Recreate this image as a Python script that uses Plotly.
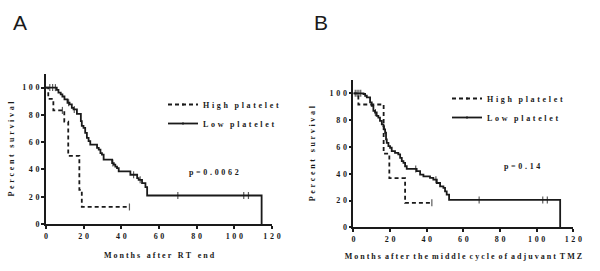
import plotly.graph_objects as go

# ---------------- data ----------------
x_ticks = [0, 20, 40, 60, 80, 100, 120]
x_tick_labels = ["0", "20", "40", "60", "80", "100", "120"]
y_ticks = [0, 20, 40, 60, 80, 100]
y_tick_labels = ["0", "20", "40", "60", "80", "100"]

series_names = ["High platelet", "Low platelet"]

# Panel A: months after RT end
a_high_t = [0, 1.2, 3.9, 9.7, 11.8, 17.7, 19.0, 44.3]
a_high_s = [100, 91.7, 83.3, 75.0, 50.0, 25.0, 12.5, 12.5]
a_high_cens = [8.7, 44.3]

a_low_t = [0, 5.7, 6.6, 7.8, 8.7, 9.8, 11.4, 12.5, 13.7, 14.6, 16.4, 18.5, 19.0, 19.9,
           20.8, 21.7, 22.6, 23.5, 27.1, 28.0, 28.9, 29.7, 30.6, 35.1, 36.0, 36.8, 37.7,
           38.6, 44.8, 48.4, 49.2, 51.0, 52.8, 53.7, 114.5]
a_low_s = [100, 98.3, 96.3, 95.0, 93.5, 91.4, 88.9, 87.7, 85.2, 84.0, 80.8, 75.4, 72.0, 70.5,
           66.8, 63.2, 60.7, 58.2, 55.8, 54.6, 52.0, 50.9, 47.2, 44.7, 43.5, 42.0, 41.0,
           38.6, 36.1, 33.6, 32.4, 30.0, 27.0, 20.9, 0]
a_low_cens = [2, 3.5, 5, 12, 15, 35.5, 46.5, 50, 70, 105, 107.5]
a_pvalue = "p = 0.0062"
a_xtitle = "Months after RT end"

# Panel B: months after the middle cycle of adjuvant TMZ
b_high_t = [0, 2.7, 16.5, 19.6, 28.2, 42.8]
b_high_s = [100, 91.7, 55.0, 36.7, 18.3, 18.3]
b_high_cens = [42.8]

b_low_t = [0, 5.5, 6.4, 7.3, 9.1, 10.0, 10.9, 11.8, 12.7, 13.6, 14.5, 15.5, 16.4, 16.7, 17.3,
           17.8, 18.2, 19.1, 20.0, 20.9, 22.7, 24.5, 25.5, 26.4, 27.3, 28.2, 29.1, 34.5,
           36.4, 38.2, 41.8, 43.6, 45.5, 47.3, 49.1, 50.0, 50.9, 52.2, 112.8]
b_low_s = [100, 99.5, 98.2, 97.0, 93.2, 90.7, 87.0, 85.7, 83.2, 81.9, 79.4, 76.9, 75.6, 73.1,
           70.6, 65.6, 63.1, 60.6, 59.4, 56.9, 55.6, 54.4, 51.9, 49.4, 48.1, 45.6, 43.6,
           41.9, 39.4, 38.1, 36.9, 35.6, 33.1, 30.6, 29.4, 26.9, 24.4, 20.5, 0]
b_low_cens = [1, 2, 3, 4, 12, 34, 45, 68.6, 103.3, 105.8]
b_pvalue = "p = 0.14"
b_xtitle = "Months after the middle cycle of adjuvant TMZ"

y_title = "Percent survival"
panel_labels = ["A", "B"]

# ---------------- helpers ----------------
SERIF = "Liberation Serif"
INK = "#1a1a1a"
FS = 8
LW = 1.8


def spaced(text, gap="\u2004", word="\u2002\u2004"):
    out = []
    for i, ch in enumerate(text):
        if ch == " ":
            out.append(word)
        else:
            out.append(ch)
            if i < len(text) - 1 and text[i + 1] != " ":
                out.append(gap)
    return "".join(out)


def surv_at(times, surv, t):
    v = surv[0]
    for ti, si in zip(times, surv):
        if ti <= t:
            v = si
    return v


def km_trace(times, surv, cens, name, dash, xa, ya, legend):
    pts = [(t, s, 0) for t, s in zip(times, surv)]
    pts += [(c, surv_at(times, surv, c), 5) for c in cens]
    pts = sorted(pts, key=lambda p: p[0])
    xs = [p[0] for p in pts]
    ys = [p[1] for p in pts]
    sizes = [p[2] for p in pts]
    return go.Scatter(
        x=xs, y=ys, mode="lines+markers",
        name=spaced(name),
        line=dict(color=INK, width=LW, shape="hv", dash=dash),
        marker=dict(symbol="line-ns", size=sizes, color=INK,
                    line=dict(color=INK, width=1.2)),
        xaxis=xa, yaxis=ya, legend=legend,
    )


fig = go.Figure()
fig.add_trace(km_trace(a_high_t, a_high_s, a_high_cens, series_names[0], "4px,3px", "x", "y", "legend"))
fig.add_trace(km_trace(a_low_t, a_low_s, a_low_cens, series_names[1], "solid", "x", "y", "legend"))
fig.add_trace(km_trace(b_high_t, b_high_s, b_high_cens, series_names[0], "4px,3px", "x2", "y2", "legend2"))
fig.add_trace(km_trace(b_low_t, b_low_s, b_low_cens, series_names[1], "solid", "x2", "y2", "legend2"))

txtfont = dict(family=SERIF, size=FS, color=INK, weight="bold")

xcommon = dict(range=[0, 120], tickvals=x_ticks, ticktext=[spaced(t) for t in x_tick_labels],
               showline=True, linecolor=INK, linewidth=LW, ticks="outside", ticklen=3,
               tickwidth=LW, tickcolor=INK, showgrid=False, zeroline=False,
               tickfont=txtfont, fixedrange=True, automargin=False)
ycommon = dict(range=[0, 110], tickvals=y_ticks, ticktext=[spaced(t) for t in y_tick_labels],
               showline=True, linecolor=INK, linewidth=LW, ticks="outside", ticklen=3,
               tickwidth=LW, tickcolor=INK, showgrid=False, zeroline=False,
               tickfont=txtfont, fixedrange=True, automargin=False)

fig.update_layout(
    width=600, height=271,
    margin=dict(l=0, r=0, t=0, b=0),
    paper_bgcolor="white", plot_bgcolor="white",
    xaxis=dict(domain=[0.0767, 0.4533], anchor="y",
               title=dict(text=spaced(a_xtitle, gap="\u2005", word="\u2002\u2004"),
                          font=txtfont, standoff=13), **xcommon),
    yaxis=dict(domain=[0.1734, 0.727], anchor="x",
               title=dict(text=spaced(y_title), font=txtfont, standoff=6), **ycommon),
    xaxis2=dict(domain=[0.589, 0.9556], anchor="y2",
                title=dict(text=spaced(b_xtitle, gap="\u2005", word="\u2002"),
                           font=txtfont, standoff=11), **xcommon),
    yaxis2=dict(domain=[0.161, 0.705], anchor="x2",
                title=dict(text=spaced(y_title), font=txtfont, standoff=13), **ycommon),
    legend=dict(x=163 / 600, y=1 - 90 / 271, xanchor="left", yanchor="top",
                font=txtfont, bgcolor="rgba(0,0,0,0)", itemwidth=30, tracegroupgap=0),
    legend2=dict(x=447 / 600, y=1 - 84 / 271, xanchor="left", yanchor="top",
                 font=txtfont, bgcolor="rgba(0,0,0,0)", itemwidth=30, tracegroupgap=0),
    showlegend=True,
    annotations=[
        dict(text=spaced(a_pvalue, word="\u2004"), x=214 / 600, y=1 - 172 / 271,
             xref="paper", yref="paper", xanchor="center", yanchor="middle",
             showarrow=False, font=txtfont),
        dict(text=spaced(b_pvalue, word="\u2004"), x=522 / 600, y=1 - 166 / 271,
             xref="paper", yref="paper", xanchor="center", yanchor="middle",
             showarrow=False, font=txtfont),
        dict(text=panel_labels[0], x=20 / 600, y=1 - 23 / 271, xref="paper", yref="paper",
             xanchor="center", yanchor="middle", showarrow=False,
             font=dict(family="Liberation Sans", size=21, color=INK)),
        dict(text=panel_labels[1], x=321 / 600, y=1 - 23 / 271, xref="paper", yref="paper",
             xanchor="center", yanchor="middle", showarrow=False,
             font=dict(family="Liberation Sans", size=21, color=INK)),
    ],
)

fig.write_html("out.html", config={"displayModeBar": False},
               post_script="document.body.style.margin='0';")
